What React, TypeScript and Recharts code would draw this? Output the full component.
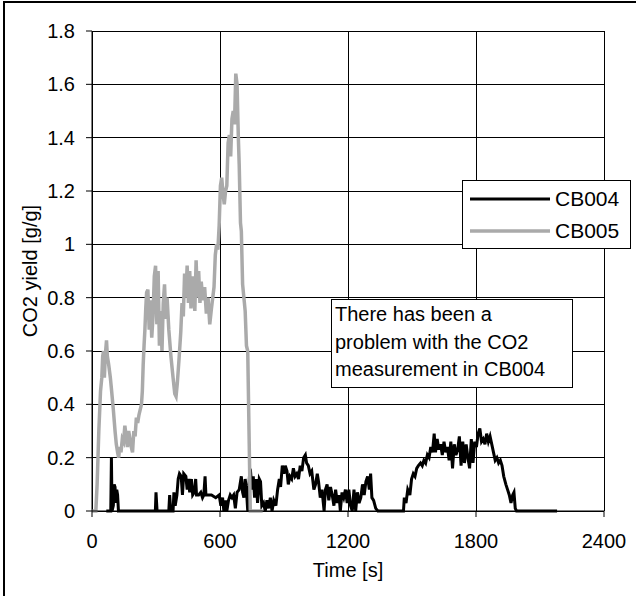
import React from "react";
import { LineChart, Line, XAxis, YAxis, CartesianGrid } from "recharts";

// CB004 (black) – time [s] and CO2 yield [g/g]
const cb004Time = [
  67, 88, 91, 94, 100, 104, 108, 112, 116, 120,
  124, 297, 300, 305, 360, 364, 369, 380, 384, 390,
  398, 404, 410, 418, 424, 430, 440, 446, 452, 458,
  466, 472, 480, 486, 490, 500, 510, 518, 524, 530,
  534, 560, 580, 596, 604, 612, 618, 626, 632, 640,
  648, 656, 664, 672, 680, 690, 700, 706, 712, 718,
  724, 730, 738, 744, 750, 756, 762, 770, 776, 784,
  790, 796, 804, 812, 820, 828, 836, 844, 852, 862,
  870, 878, 884, 892, 900, 906, 914, 920, 928, 936,
  944, 952, 960, 968, 976, 984, 992, 1000, 1006, 1014,
  1022, 1030, 1040, 1048, 1056, 1062, 1070, 1078, 1088, 1094,
  1102, 1110, 1118, 1126, 1134, 1142, 1150, 1158, 1164, 1172,
  1180, 1188, 1196, 1204, 1212, 1220, 1228, 1236, 1244, 1252,
  1260, 1268, 1276, 1284, 1292, 1300, 1306, 1312, 1320, 1330,
  1340, 1460, 1464, 1472, 1480, 1490, 1498, 1506, 1514, 1522,
  1530, 1540, 1548, 1556, 1564, 1572, 1580, 1588, 1596, 1604,
  1610, 1618, 1626, 1634, 1642, 1650, 1658, 1666, 1674, 1682,
  1690, 1698, 1706, 1714, 1722, 1730, 1738, 1746, 1754, 1762,
  1770, 1778, 1786, 1794, 1802, 1810, 1818, 1826, 1834, 1842,
  1850, 1858, 1866, 1874, 1882, 1890, 1898, 1906, 1914, 1922,
  1930, 1940, 1948, 1956, 1964, 1972, 1978, 1984, 1990, 2180,
];
const cb004Yield = [
  0, 0, 0.2, 0, 0.02, 0.1, 0.09, 0.03, 0.08, 0.06,
  0, 0, 0.07, 0, 0, 0.06, 0, 0, 0.07, 0.02,
  0.06, 0.12, 0.14, 0.13, 0.06, 0.14, 0.13, 0.08, 0.12, 0.07,
  0.12, 0.06, 0.07, 0.12, 0.06, 0.06, 0.07, 0.05, 0.06, 0.13,
  0.06, 0.06, 0.05, 0.06, 0.02, 0.05, 0, 0.04, 0, 0.04,
  0.06, 0.05, 0.06, 0.01, 0.07, 0.08, 0.13, 0.07, 0.05, 0.12,
  0.08, 0, 0.13, 0.14, 0.08, 0.13, 0.05, 0.12, 0.03, 0.12,
  0.11, 0.02, 0.03, 0, 0.04, 0.01, 0.05, 0, 0.04, 0.02,
  0.08, 0.12, 0.09, 0.17, 0.14, 0.17, 0.15, 0.1, 0.13, 0.12,
  0.16, 0.13, 0.14, 0.12, 0.17, 0.15, 0.2, 0.21, 0.18, 0.17,
  0.14, 0.15, 0.08, 0.1, 0.14, 0.11, 0.05, 0.08, 0, 0.08,
  0.1, 0.04, 0.09, 0.06, 0.02, 0.08, 0.03, 0.06, 0, 0.07,
  0.05, 0.08, 0.03, 0.08, 0.02, 0, 0.08, 0, 0.07, 0.03,
  0.05, 0.1, 0.06, 0.11, 0.13, 0.08, 0.14, 0.05, 0.04, 0.01,
  0, 0, 0.05, 0.03, 0.08, 0.06, 0.12, 0.14, 0.13, 0.16,
  0.17, 0.18, 0.17, 0.19, 0.18, 0.21, 0.2, 0.24, 0.22, 0.29,
  0.22, 0.27, 0.23, 0.25, 0.21, 0.26, 0.22, 0.24, 0.19, 0.26,
  0.16, 0.25, 0.21, 0.23, 0.28, 0.17, 0.26, 0.18, 0.25, 0.2,
  0.16, 0.27, 0.18, 0.26, 0.24, 0.29, 0.31, 0.26, 0.27, 0.25,
  0.29, 0.26, 0.28, 0.25, 0.22, 0.19, 0.2, 0.18, 0.19, 0.17,
  0.13, 0.1, 0.08, 0.06, 0.03, 0.06, 0.07, 0.01, 0, 0,
];

// CB005 (grey)
const cb005Time = [
  0, 18, 24, 32, 40, 46, 50, 54, 58, 62,
  68, 72, 78, 86, 92, 100, 108, 114, 120, 125,
  130, 136, 142, 148, 154, 160, 166, 172, 178, 184,
  190, 196, 202, 208, 214, 220, 226, 232, 236, 240,
  244, 248, 252, 256, 262, 268, 274, 280, 286, 292,
  298, 304, 310, 316, 322, 328, 334, 340, 346, 352,
  360, 370, 380, 388, 394, 400, 408, 416, 422, 428,
  434, 440, 446, 452, 458, 464, 470, 476, 482, 488,
  494, 500, 506, 512, 520, 528, 536, 544, 552, 560,
  566, 572, 578, 584, 590, 596, 602, 608, 614, 620,
  626, 632, 638, 644, 650, 656, 662, 668, 674, 680,
  686, 690, 696, 700, 706, 712, 718, 724, 730, 736,
  742, 800,
];
const cb005Yield = [
  0, 0, 0.1, 0.3, 0.45, 0.5, 0.58, 0.6, 0.5, 0.58,
  0.64, 0.58, 0.55, 0.5, 0.45, 0.38, 0.3, 0.25, 0.22, 0.2,
  0.24, 0.22, 0.27, 0.26, 0.32, 0.28, 0.24, 0.3, 0.27, 0.24,
  0.22, 0.3, 0.28, 0.35, 0.33, 0.36, 0.38, 0.4, 0.45, 0.55,
  0.62, 0.68, 0.76, 0.82, 0.83, 0.68, 0.79, 0.65, 0.73, 0.88,
  0.92, 0.7, 0.9, 0.62, 0.75, 0.6, 0.78, 0.85, 0.72, 0.8,
  0.68, 0.58, 0.5, 0.44, 0.43, 0.48, 0.57, 0.67, 0.78, 0.73,
  0.89, 0.8, 0.92, 0.78, 0.9, 0.76, 0.88, 0.84, 0.75, 0.94,
  0.8, 0.9, 0.78, 0.86, 0.79, 0.84, 0.74, 0.8, 0.7, 0.76,
  0.8, 0.84, 0.96, 1.0, 0.98, 1.07, 1.22, 1.25, 1.19, 1.15,
  1.2, 1.22, 1.38, 1.41, 1.33, 1.47, 1.5, 1.45, 1.64, 1.6,
  1.4, 1.3, 1.08, 1.05, 0.85, 0.8, 0.75, 0.62, 0.6, 0.3,
  0, 0,
];

const xTicks = [0, 600, 1200, 1800, 2400];
const yTicks = [0, 0.2, 0.4, 0.6, 0.8, 1, 1.2, 1.4, 1.6, 1.8];
const seriesNames = ["CB004", "CB005"];
const seriesColors = ["#000000", "#aaaaaa"];
const seriesWidths = [3, 3.5];
const noteLines = ["There has been a", "problem with the CO2", "measurement in CB004"];

const cb004 = cb004Time.map((t, i) => ({ time: t, value: cb004Yield[i] }));
const cb005 = cb005Time.map((t, i) => ({ time: t, value: cb005Yield[i] }));

const font = "'Liberation Sans', Arial, sans-serif";

export default function App() {
  return (
    <div
      style={{
        position: "absolute",
        left: 0,
        top: 0,
        width: 636,
        height: 596,
        overflow: "hidden",
        background: "#fff",
        fontFamily: font,
      }}
    >
      {/* outer frame: only its left and top edges are inside the picture */}
      <div style={{ position: "absolute", left: 3, top: 1, width: 633, height: 2, background: "#000" }} />
      <div style={{ position: "absolute", left: 3, top: 1, width: 2, height: 595, background: "#000" }} />

      <LineChart
        width={636}
        height={596}
        margin={{ top: 31, right: 32, bottom: 15, left: 0 }}
        style={{ position: "absolute", left: 0, top: 0 }}
      >
        <CartesianGrid stroke="#000" strokeWidth={1} shapeRendering="crispEdges" />
        <XAxis
          type="number"
          dataKey="time"
          domain={[0, 2400]}
          ticks={xTicks}
          height={70}
          tickSize={6}
          tickMargin={17}
          stroke="#000"
          tick={{ fontSize: 20, fill: "#000" }}
          allowDuplicatedCategory={false}
          label={{ value: "Time [s]", position: "insideBottom", offset: 4, fontSize: 20, fill: "#000" }}
        />
        <YAxis
          type="number"
          domain={[0, 1.8]}
          ticks={yTicks}
          width={92}
          tickSize={6}
          tickMargin={11}
          stroke="#000"
          tick={{ fontSize: 20, fill: "#000" }}
          label={{
            value: "CO2 yield [g/g]",
            angle: -90,
            position: "insideLeft",
            offset: 30,
            fontSize: 20,
            fill: "#000",
            style: { textAnchor: "middle" },
          }}
        />
        <Line
          data={cb004}
          dataKey="value"
          name={seriesNames[0]}
          stroke={seriesColors[0]}
          strokeWidth={seriesWidths[0]}
          dot={false}
          type="linear"
          isAnimationActive={false}
        />
        <Line
          data={cb005}
          dataKey="value"
          name={seriesNames[1]}
          stroke={seriesColors[1]}
          strokeWidth={seriesWidths[1]}
          dot={false}
          type="linear"
          isAnimationActive={false}
        />
      </LineChart>

      {/* legend */}
      <svg width={170} height={70} style={{ position: "absolute", left: 462, top: 180 }}>
        <rect x={0.5} y={0.5} width={168} height={68} fill="#fff" stroke="#000" />
        {seriesNames.map((name, i) => (
          <g key={name}>
            <line
              x1={8}
              x2={88}
              y1={19 + i * 32}
              y2={19 + i * 32}
              stroke={seriesColors[i]}
              strokeWidth={seriesWidths[i]}
            />
            <text x={93} y={26 + i * 32} fontSize={21} fill="#000" fontFamily={font}>
              {name}
            </text>
          </g>
        ))}
      </svg>

      {/* note box */}
      <div
        style={{
          position: "absolute",
          left: 331,
          top: 299,
          width: 237,
          height: 86,
          border: "1px solid #000",
          background: "#fff",
          padding: "1px 0 0 3px",
          boxSizing: "content-box",
          fontSize: 20,
          lineHeight: "27.5px",
          color: "#000",
          whiteSpace: "nowrap",
        }}
      >
        {noteLines.map((l) => (
          <div key={l}>{l}</div>
        ))}
      </div>
    </div>
  );
}
